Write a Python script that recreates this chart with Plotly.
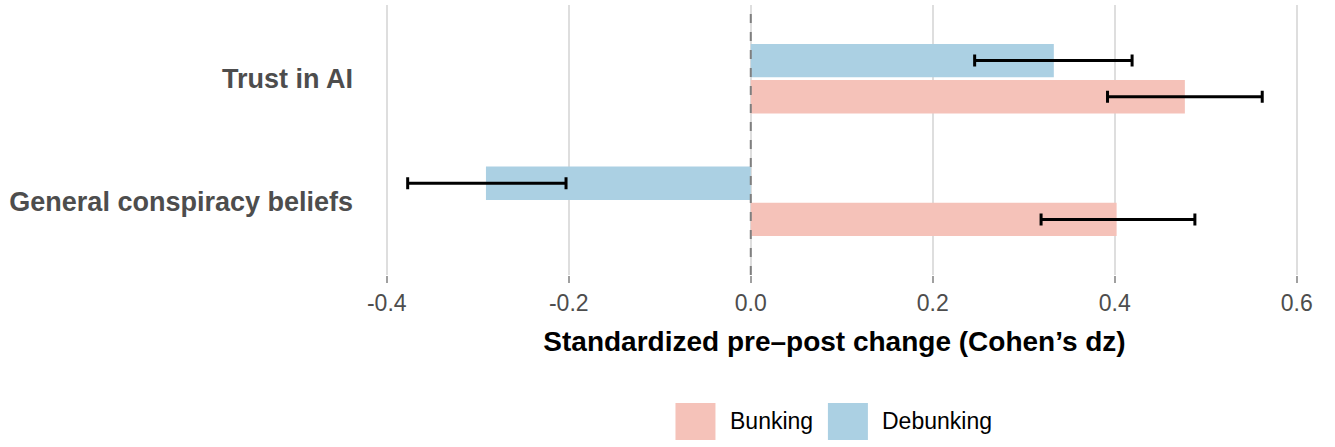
import plotly.graph_objects as go

# ---- data ----
categories = ["General conspiracy beliefs", "Trust in AI"]
series_names = ["Bunking", "Debunking"]
series_colors = ["#F5C2B9", "#ABD0E3"]
bunking_dz = [0.402, 0.477]
bunking_lo = [0.319, 0.392]
bunking_hi = [0.488, 0.562]
debunking_dz = [-0.291, 0.333]
debunking_lo = [-0.377, 0.246]
debunking_hi = [-0.203, 0.419]
x_ticks = [-0.4, -0.2, 0.0, 0.2, 0.4, 0.6]
x_title = "Standardized pre\u2013post change (Cohen\u2019s dz)"

FONT = "Liberation Sans, Arial, Helvetica, sans-serif"

fig = go.Figure()
series = [
    (bunking_dz, bunking_lo, bunking_hi),
    (debunking_dz, debunking_lo, debunking_hi),
]
for name, color, (vals, lo, hi) in zip(series_names, series_colors, series):
    fig.add_trace(go.Bar(
        y=categories, x=vals, name=name, orientation="h",
        marker=dict(color=color, line=dict(width=0)),
        error_x=dict(type="data", symmetric=False,
                     array=[h - v for h, v in zip(hi, vals)],
                     arrayminus=[v - l for v, l in zip(vals, lo)],
                     color="black", thickness=3, width=6),
        showlegend=False,
    ))

fig.add_shape(type="line", xref="x", yref="paper", x0=0, x1=0, y0=0, y1=1,
              line=dict(color="#7F7F7F", width=2, dash="dash"), layer="above")

# manual legend (ggplot-like large keys)
leg_y0, leg_y1 = -0.474, -0.611
key_w = 0.0425
leg_x = [0.331, 0.493]
for name, color, lx in zip(series_names, series_colors, leg_x):
    fig.add_shape(type="rect", xref="paper", yref="paper",
                  x0=lx, x1=lx + key_w, y0=leg_y1, y1=leg_y0,
                  fillcolor=color, line=dict(width=0))
    fig.add_annotation(xref="paper", yref="paper", x=lx + key_w + 0.013,
                       y=(leg_y0 + leg_y1) / 2, text=name, showarrow=False,
                       xanchor="left", yanchor="middle",
                       font=dict(family=FONT, size=23, color="black"))

fig.update_layout(
    width=1335, height=447,
    margin=dict(l=364, r=30, t=5, b=172),
    paper_bgcolor="white", plot_bgcolor="white",
    barmode="group", bargap=0.41, bargroupgap=0.08,
    font=dict(family=FONT),
    xaxis=dict(range=[-0.425, 0.609], tickvals=x_ticks,
               ticktext=[f"{t:.1f}" for t in x_ticks],
               showgrid=True, gridcolor="#DEDEDE", gridwidth=2,
               zeroline=False, showline=False,
               ticks="outside", ticklen=7, tickwidth=2, tickcolor="#A0A0A0",
               tickfont=dict(family=FONT, size=23, color="#4D4D4D"),
               title=dict(text="<b>" + x_title + "</b>", standoff=16,
                          font=dict(family=FONT, size=28, color="black"))),
    yaxis=dict(range=[-0.6, 1.6], showgrid=False, zeroline=False,
               showline=False, ticks="", ticklabelstandoff=10,
               tickfont=dict(family=FONT, size=27, color="#4D4D4D", weight="bold")),
)

fig.write_html("out.html", config={"displayModeBar": False},
               post_script="document.body.style.margin='0';document.body.style.overflow='hidden';")
